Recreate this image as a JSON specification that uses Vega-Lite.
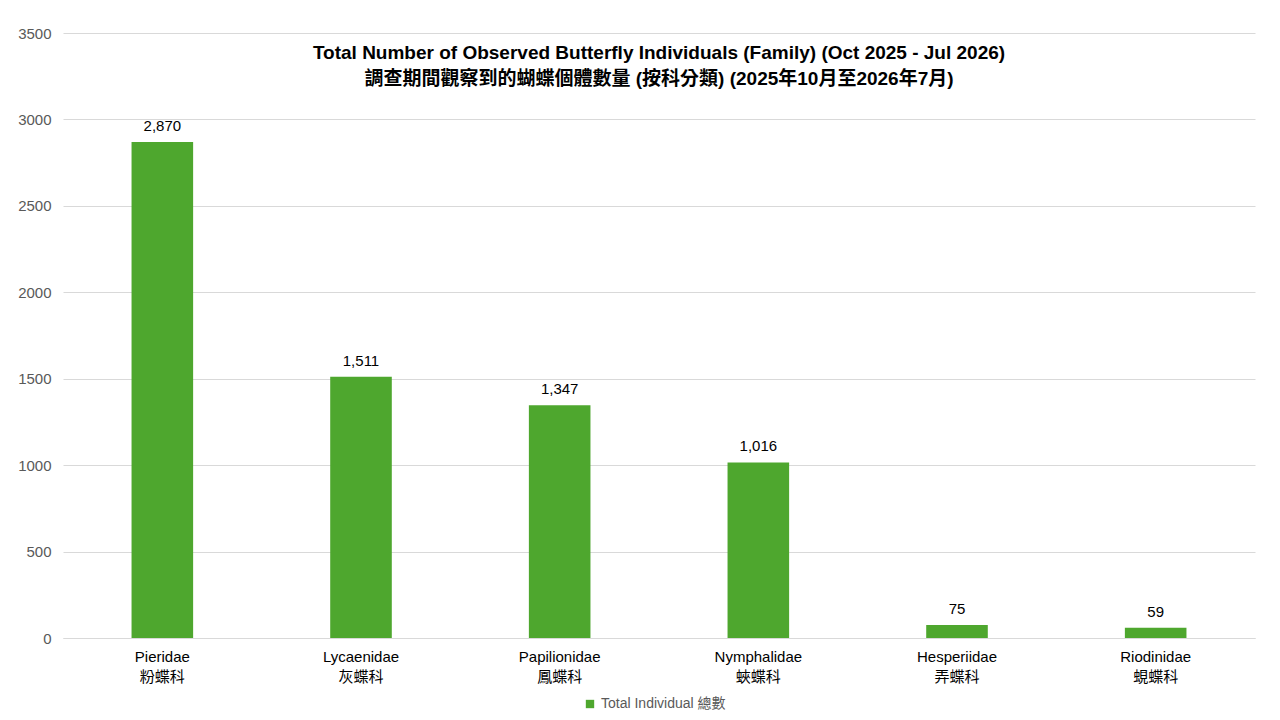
{
  "$schema": "https://vega.github.io/schema/vega-lite/v6.json",
  "width": 1192,
  "height": 605,
  "autosize": "none",
  "padding": {"left": 63, "top": 33, "right": 25, "bottom": 82},
  "background": "white",
  "title": {
    "text": ["Total Number of Observed Butterfly Individuals (Family) (Oct 2025 - Jul 2026)", "調查期間觀察到的蝴蝶個體數量 (按科分類) (2025年10月至2026年7月)"],
    "anchor": "middle",
    "fontSize": 19,
    "fontWeight": "bold",
    "font": "Liberation Sans, Noto Sans CJK TC",
    "color": "black",
    "lineHeight": 26,
    "baseline": "top",
    "offset": -63
  },
  "data": {
    "values": [
      {"family": "Pieridae\n粉蝶科", "total": 2870, "series": "Total Individual 總數"},
      {"family": "Lycaenidae\n灰蝶科", "total": 1511, "series": "Total Individual 總數"},
      {"family": "Papilionidae\n鳳蝶科", "total": 1347, "series": "Total Individual 總數"},
      {"family": "Nymphalidae\n蛺蝶科", "total": 1016, "series": "Total Individual 總數"},
      {"family": "Hesperiidae\n弄蝶科", "total": 75, "series": "Total Individual 總數"},
      {"family": "Riodinidae\n蜆蝶科", "total": 59, "series": "Total Individual 總數"}
    ]
  },
  "encoding": {
    "x": {
      "field": "family", "type": "nominal", "sort": null,
      "scale": {"paddingInner": 0.69, "paddingOuter": 0.345},
      "axis": {"title": null, "labelAngle": 0, "labelExpr": "split(datum.label, '\\n')", "labelFontSize": 15, "labelColor": "#000", "domainColor": "#d9d9d9", "ticks": false, "labelPadding": 11, "labelLineHeight": 20}
    },
    "y": {
      "field": "total", "type": "quantitative",
      "scale": {"domain": [0, 3500]},
      "axis": {"title": null, "format": "d", "values": [0, 500, 1000, 1500, 2000, 2500, 3000, 3500], "labelFontSize": 15, "labelColor": "#595959", "gridColor": "#d9d9d9", "domain": false, "ticks": false, "labelPadding": 12}
    }
  },
  "layer": [
    {
      "mark": {"type": "bar", "color": "#4ea72e"},
      "encoding": {
        "color": {"field": "series", "type": "nominal", "scale": {"range": ["#4ea72e"]},
          "legend": {"title": null, "orient": "none", "legendX": 520, "legendY": 664, "direction": "horizontal", "symbolType": "square", "symbolSize": 70, "labelFontSize": 14, "labelColor": "#595959"}}
      }
    },
    {
      "mark": {"type": "text", "dy": -16, "fontSize": 15, "color": "black"},
      "encoding": {"text": {"field": "total", "type": "quantitative", "format": ","}}
    }
  ],
  "config": {
    "font": "Liberation Sans, Noto Sans CJK TC",
    "view": {"stroke": null}
  }
}
